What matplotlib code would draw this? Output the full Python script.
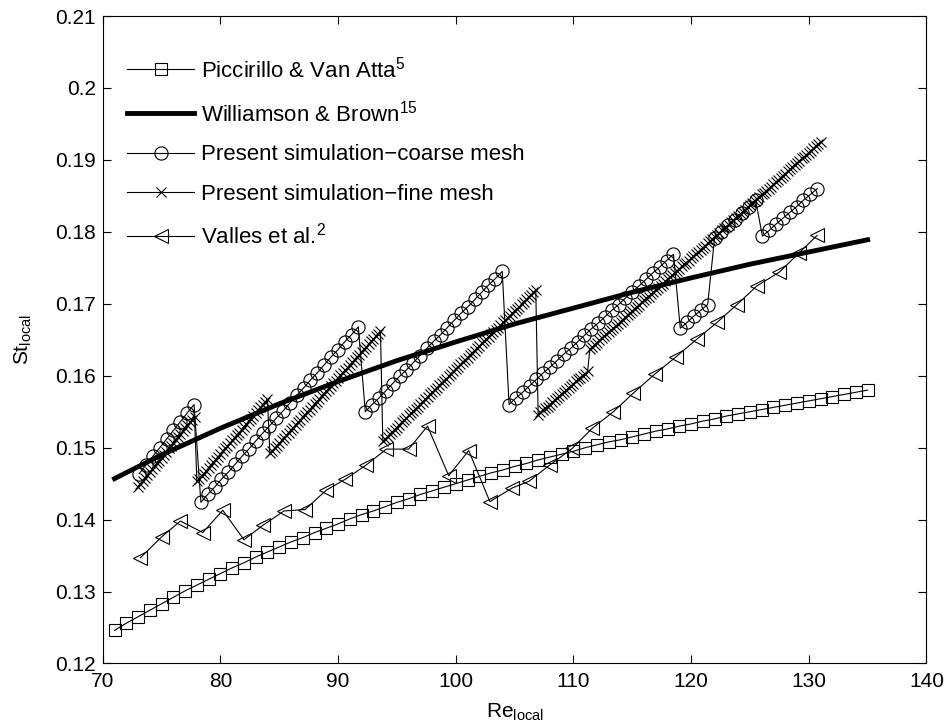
import numpy as np
import matplotlib.pyplot as plt

# Piccirillo & Van Atta (squares)
picRe = [71, 72, 73, 74, 75, 76, 77, 78, 79, 80, 81, 82, 83, 84, 85, 86, 87, 88, 89, 90,
         91, 92, 93, 94, 95, 96, 97, 98, 99, 100, 101, 102, 103, 104, 105, 106, 107, 108, 109, 110,
         111, 112, 113, 114, 115, 116, 117, 118, 119, 120, 121, 122, 123, 124, 125, 126, 127, 128, 129, 130,
         131, 132, 133, 134, 135]
picSt = [0.1246, 0.1256, 0.1265, 0.1274, 0.1283, 0.1292, 0.1301, 0.1309, 0.1317, 0.1325,
         0.1333, 0.1340, 0.1348, 0.1355, 0.1362, 0.1369, 0.1375, 0.1382, 0.1388, 0.1394,
         0.1401, 0.1407, 0.1412, 0.1418, 0.1424, 0.1429, 0.1435, 0.1440, 0.1445, 0.1450,
         0.1455, 0.1460, 0.1465, 0.1469, 0.1474, 0.1478, 0.1483, 0.1487, 0.1491, 0.1495,
         0.1500, 0.1504, 0.1508, 0.1511, 0.1515, 0.1519, 0.1523, 0.1526, 0.1530, 0.1533,
         0.1537, 0.1540, 0.1544, 0.1547, 0.1550, 0.1553, 0.1556, 0.1559, 0.1562, 0.1565,
         0.1568, 0.1571, 0.1574, 0.1577, 0.1580]

# Williamson & Brown (thick line)
wbRe = [71, 75, 80, 85, 90, 95, 100, 105, 110, 115, 120, 125, 130, 135]
wbSt = [0.1457, 0.1490, 0.1527, 0.1561, 0.1592, 0.1621, 0.1647, 0.1672, 0.1694, 0.1716,
        0.1736, 0.1755, 0.1772, 0.1789]

# present simulation - coarse mesh (circles), one list per branch
coarseReA = [73.10, 73.68, 74.26, 74.85, 75.43, 76.01, 76.59, 77.17, 77.76]
coarseStA = [0.1464, 0.1476, 0.1488, 0.1500, 0.1512, 0.1524, 0.1536, 0.1548, 0.1560]
coarseReB = [78.34, 78.92, 79.50, 80.08, 80.67, 81.25, 81.83, 82.41, 82.99, 83.58, 84.16, 84.74,
             85.32, 85.90, 86.49, 87.07, 87.65, 88.23, 88.81, 89.40, 89.98, 90.56, 91.14, 91.72]
coarseStB = [0.1424, 0.1435, 0.1445, 0.1456, 0.1466, 0.1477, 0.1488, 0.1498, 0.1509, 0.1520, 0.1530, 0.1541,
             0.1551, 0.1562, 0.1573, 0.1583, 0.1594, 0.1604, 0.1615, 0.1626, 0.1636, 0.1647, 0.1657, 0.1668]
coarseReC = [92.31, 92.89, 93.47, 94.05, 94.63, 95.22, 95.80, 96.38, 96.96, 97.54, 98.13,
             98.71, 99.29, 99.87, 100.45, 101.04, 101.62, 102.20, 102.78, 103.36, 103.95]
coarseStC = [0.1550, 0.1560, 0.1569, 0.1579, 0.1589, 0.1599, 0.1608, 0.1618, 0.1628, 0.1638, 0.1648,
             0.1657, 0.1667, 0.1677, 0.1687, 0.1696, 0.1706, 0.1716, 0.1726, 0.1735, 0.1745]
coarseReD = [104.53, 105.11, 105.69, 106.27, 106.86, 107.44, 108.02, 108.60, 109.18, 109.77, 110.35, 110.93,
             111.51, 112.09, 112.68, 113.26, 113.84, 114.42, 115.00, 115.59, 116.17, 116.75, 117.33, 117.91, 118.50]
coarseStD = [0.1560, 0.1569, 0.1577, 0.1586, 0.1595, 0.1604, 0.1612, 0.1621, 0.1630, 0.1638, 0.1647, 0.1656,
             0.1665, 0.1673, 0.1682, 0.1691, 0.1699, 0.1708, 0.1717, 0.1725, 0.1734, 0.1743, 0.1751, 0.1760, 0.1769]
coarseReE = [119.08, 119.66, 120.24, 120.82, 121.41]
coarseStE = [0.1666, 0.1674, 0.1683, 0.1691, 0.1699]
coarseReF = [121.99, 122.57, 123.15, 123.73, 124.32, 124.90, 125.48]
coarseStF = [0.1791, 0.1800, 0.1809, 0.1817, 0.1826, 0.1835, 0.1844]
coarseReG = [126.06, 126.64, 127.23, 127.81, 128.39, 128.97, 129.55, 130.14, 130.72]
coarseStG = [0.1794, 0.1802, 0.1811, 0.1819, 0.1827, 0.1835, 0.1844, 0.1852, 0.1860]

# present simulation - fine mesh (crosses), one list per branch
fineReA = [73.0, 73.2, 73.4, 73.6, 73.8, 74.0, 74.2, 74.4, 74.6, 74.8, 75.0, 75.2, 75.4, 75.6, 75.8,
           76.0, 76.2, 76.4, 76.6, 76.8, 77.0, 77.2, 77.4, 77.6, 77.8]
fineStA = [0.1446, 0.1450, 0.1454, 0.1458, 0.1462, 0.1466, 0.1470, 0.1474, 0.1478, 0.1482, 0.1486, 0.1490,
           0.1494, 0.1499, 0.1503, 0.1507, 0.1511, 0.1515, 0.1519, 0.1523, 0.1527, 0.1531, 0.1535, 0.1539, 0.1543]
fineReB = [78.0, 78.2, 78.4, 78.6, 78.8, 79.0, 79.2, 79.4, 79.6, 79.8, 80.0, 80.2, 80.4, 80.6, 80.8,
           81.0, 81.2, 81.4, 81.6, 81.8, 82.0, 82.2, 82.4, 82.6, 82.8, 83.0, 83.2, 83.4, 83.6, 83.8, 84.0]
fineStB = [0.1453, 0.1457, 0.1461, 0.1464, 0.1468, 0.1472, 0.1476, 0.1480, 0.1483, 0.1487, 0.1491, 0.1495,
           0.1499, 0.1502, 0.1506, 0.1510, 0.1514, 0.1518, 0.1521, 0.1525, 0.1529, 0.1533, 0.1537, 0.1540,
           0.1544, 0.1548, 0.1552, 0.1556, 0.1559, 0.1563, 0.1567]
fineReC = [84.2, 84.4, 84.6, 84.8, 85.0, 85.2, 85.4, 85.6, 85.8, 86.0, 86.2, 86.4, 86.6, 86.8,
           87.0, 87.2, 87.4, 87.6, 87.8, 88.0, 88.2, 88.4, 88.6, 88.8, 89.0, 89.2, 89.4, 89.6, 89.8,
           90.0, 90.2, 90.4, 90.6, 90.8, 91.0, 91.2, 91.4, 91.6, 91.8, 92.0, 92.2, 92.4, 92.6, 92.8,
           93.0, 93.2, 93.4, 93.6]
fineStC = [0.1492, 0.1496, 0.1499, 0.1503, 0.1506, 0.1510, 0.1514, 0.1517, 0.1521, 0.1525,
           0.1528, 0.1532, 0.1535, 0.1539, 0.1543, 0.1546, 0.1550, 0.1553, 0.1557, 0.1561,
           0.1564, 0.1568, 0.1572, 0.1575, 0.1579, 0.1582, 0.1586, 0.1590, 0.1593, 0.1597,
           0.1601, 0.1604, 0.1608, 0.1611, 0.1615, 0.1619, 0.1622, 0.1626, 0.1629, 0.1633,
           0.1637, 0.1640, 0.1644, 0.1648, 0.1651, 0.1655, 0.1658, 0.1662]
fineReD = [93.8, 94.0, 94.2, 94.4, 94.6, 94.8, 95.0, 95.2, 95.4, 95.6, 95.8, 96.0, 96.2, 96.4, 96.6, 96.8,
           97.0, 97.2, 97.4, 97.6, 97.8, 98.0, 98.2, 98.4, 98.6, 98.8, 99.0, 99.2, 99.4, 99.6, 99.8,
           100.0, 100.2, 100.4, 100.6, 100.8, 101.0, 101.2, 101.4, 101.6, 101.8, 102.0, 102.2, 102.4, 102.6, 102.8,
           103.0, 103.2, 103.4, 103.6, 103.8, 104.0, 104.2, 104.4, 104.6, 104.8, 105.0, 105.2, 105.4, 105.6, 105.8,
           106.0, 106.2, 106.4, 106.6, 106.8]
fineStD = [0.1509, 0.1512, 0.1515, 0.1519, 0.1522, 0.1525, 0.1528, 0.1532, 0.1535, 0.1538,
           0.1541, 0.1545, 0.1548, 0.1551, 0.1554, 0.1557, 0.1561, 0.1564, 0.1567, 0.1570,
           0.1574, 0.1577, 0.1580, 0.1583, 0.1587, 0.1590, 0.1593, 0.1596, 0.1599, 0.1603,
           0.1606, 0.1609, 0.1612, 0.1616, 0.1619, 0.1622, 0.1625, 0.1629, 0.1632, 0.1635,
           0.1638, 0.1641, 0.1645, 0.1648, 0.1651, 0.1654, 0.1658, 0.1661, 0.1664, 0.1667,
           0.1670, 0.1674, 0.1677, 0.1680, 0.1683, 0.1687, 0.1690, 0.1693, 0.1696, 0.1700,
           0.1703, 0.1706, 0.1709, 0.1712, 0.1716, 0.1719]
fineReE = [107.0, 107.2, 107.4, 107.6, 107.8, 108.0, 108.2, 108.4, 108.6, 108.8, 109.0, 109.2, 109.4, 109.6, 109.8,
           110.0, 110.2, 110.4, 110.6, 110.8, 111.0, 111.2]
fineStE = [0.1546, 0.1549, 0.1552, 0.1555, 0.1557, 0.1560, 0.1563, 0.1566, 0.1569, 0.1572, 0.1575,
           0.1577, 0.1580, 0.1583, 0.1586, 0.1589, 0.1592, 0.1595, 0.1597, 0.1600, 0.1603, 0.1606]
fineReF = [111.4, 111.6, 111.8, 112.0, 112.2, 112.4, 112.6, 112.8, 113.0, 113.2, 113.4, 113.6, 113.8,
           114.0, 114.2, 114.4, 114.6, 114.8, 115.0, 115.2, 115.4, 115.6, 115.8, 116.0, 116.2, 116.4, 116.6, 116.8,
           117.0, 117.2, 117.4, 117.6, 117.8, 118.0, 118.2, 118.4, 118.6, 118.8, 119.0, 119.2, 119.4, 119.6, 119.8,
           120.0, 120.2, 120.4, 120.6, 120.8, 121.0, 121.2, 121.4, 121.6, 121.8, 122.0, 122.2, 122.4, 122.6, 122.8,
           123.0, 123.2, 123.4, 123.6, 123.8, 124.0, 124.2, 124.4, 124.6, 124.8, 125.0, 125.2, 125.4, 125.6, 125.8,
           126.0, 126.2, 126.4, 126.6, 126.8, 127.0, 127.2, 127.4, 127.6, 127.8, 128.0, 128.2, 128.4, 128.6, 128.8,
           129.0, 129.2, 129.4, 129.6, 129.8, 130.0, 130.2, 130.4, 130.6, 130.8, 131.0]
fineStF = [0.1637, 0.1640, 0.1643, 0.1646, 0.1649, 0.1652, 0.1655, 0.1658, 0.1661, 0.1663,
           0.1666, 0.1669, 0.1672, 0.1675, 0.1678, 0.1681, 0.1684, 0.1687, 0.1690, 0.1693,
           0.1696, 0.1699, 0.1702, 0.1705, 0.1708, 0.1710, 0.1713, 0.1716, 0.1719, 0.1722,
           0.1725, 0.1728, 0.1731, 0.1734, 0.1737, 0.1740, 0.1743, 0.1746, 0.1749, 0.1752,
           0.1755, 0.1757, 0.1760, 0.1763, 0.1766, 0.1769, 0.1772, 0.1775, 0.1778, 0.1781,
           0.1784, 0.1787, 0.1790, 0.1793, 0.1796, 0.1799, 0.1802, 0.1805, 0.1807, 0.1810,
           0.1813, 0.1816, 0.1819, 0.1822, 0.1825, 0.1828, 0.1831, 0.1834, 0.1837, 0.1840,
           0.1843, 0.1846, 0.1849, 0.1852, 0.1854, 0.1857, 0.1860, 0.1863, 0.1866, 0.1869,
           0.1872, 0.1875, 0.1878, 0.1881, 0.1884, 0.1887, 0.1890, 0.1893, 0.1896, 0.1899,
           0.1902, 0.1904, 0.1907, 0.1910, 0.1913, 0.1916, 0.1919, 0.1922, 0.1925]

# Valles et al. (left triangles)
vallesRe = [73.2, 75.0, 76.6, 78.5, 80.2, 82.0, 83.6, 85.4, 87.2, 89.0, 90.6, 92.4, 94.1, 96.0, 97.6, 99.4,
            101.1, 102.9, 104.8, 106.2, 108.0, 109.9, 111.6, 113.4, 115.1, 116.9, 118.7, 120.5, 122.2,
            123.9, 125.6, 127.5, 129.2, 130.7]
vallesSt = [0.1347, 0.1376, 0.1398, 0.1382, 0.1413, 0.1372, 0.1392, 0.1412, 0.1414, 0.1441, 0.1456,
            0.1476, 0.1498, 0.1498, 0.1530, 0.1461, 0.1496, 0.1425, 0.1444, 0.1453, 0.1476, 0.1499,
            0.1527, 0.1550, 0.1576, 0.1602, 0.1626, 0.1651, 0.1674, 0.1699, 0.1725, 0.1744, 0.1771, 0.1795]

xTicks = [70, 80, 90, 100, 110, 120, 130, 140]
yTicks = [0.12, 0.13, 0.14, 0.15, 0.16, 0.17, 0.18, 0.19, 0.2, 0.21]
yTickLabels = ["0.12", "0.13", "0.14", "0.15", "0.16", "0.17", "0.18", "0.19", "0.2", "0.21"]

legendLabels = ["Piccirillo & Van Atta$^{5}$",
                "Williamson & Brown$^{15}$",
                "Present simulation\u2212coarse mesh",
                "Present simulation\u2212fine mesh",
                "Valles et al.$^{2}$"]

plt.rcParams['font.family'] = ['Liberation Sans', 'DejaVu Sans']
plt.rcParams['mathtext.fontset'] = 'custom'
plt.rcParams['mathtext.rm'] = 'Liberation Sans'
plt.rcParams['mathtext.it'] = 'Liberation Sans:italic'
plt.rcParams['mathtext.bf'] = 'Liberation Sans:bold'


def main():
    coarseRe = coarseReA + coarseReB + coarseReC + coarseReD + coarseReE + coarseReF + coarseReG
    coarseSt = coarseStA + coarseStB + coarseStC + coarseStD + coarseStE + coarseStF + coarseStG
    fineRe = fineReA + fineReB + fineReC + fineReD + fineReE + fineReF
    fineSt = fineStA + fineStB + fineStC + fineStD + fineStE + fineStF
    plotGraphs(coarseRe, coarseSt, fineRe, fineSt)


def plotGraphs(coarseRe, coarseSt, fineRe, fineSt):
    fig = plt.figure(figsize=(9.47, 7.28), dpi=100)
    ax = fig.add_axes([0.1085, 0.0886, 0.8698, 0.8894])

    thin = dict(color="k", lw=0.8, mew=0.8)
    ax.plot(picRe, picSt, marker="s", ms=8, mfc="none", label=legendLabels[0], **thin)
    ax.plot(wbRe, wbSt, color="k", lw=3.5, label=legendLabels[1])
    ax.plot(coarseRe, coarseSt, marker="o", ms=9.5, mfc="none", label=legendLabels[2], **thin)
    ax.plot(fineRe, fineSt, marker="x", ms=7.5, label=legendLabels[3], **thin)
    ax.plot(vallesRe, vallesSt, marker="<", ms=10, mfc="none", label=legendLabels[4], **thin)

    ax.set_xlim(70, 140)
    ax.set_ylim(0.12, 0.21)
    ax.set_xticks(xTicks)
    ax.set_yticks(yTicks)
    ax.set_yticklabels(yTickLabels)
    ax.tick_params(direction="in", top=True, right=True, length=6, width=0.8, labelsize=15)
    ax.tick_params(axis="x", pad=6)
    ax.tick_params(axis="y", pad=5)
    for s in ax.spines.values():
        s.set_linewidth(0.8)

    ax.set_xlabel("Re$_{\\mathrm{local}}$", fontsize=15, labelpad=8)
    ax.set_ylabel("St$_{\\mathrm{local}}$", fontsize=15, labelpad=15)

    ax.legend(loc="upper left", bbox_to_anchor=(0.030, 0.938), frameon=False, fontsize=16,
              handlelength=3.0, handletextpad=0.33, labelspacing=0.82,
              borderpad=0, borderaxespad=0)

    fig.savefig("out.png", dpi=100)


if __name__ == "__main__":
    main()
